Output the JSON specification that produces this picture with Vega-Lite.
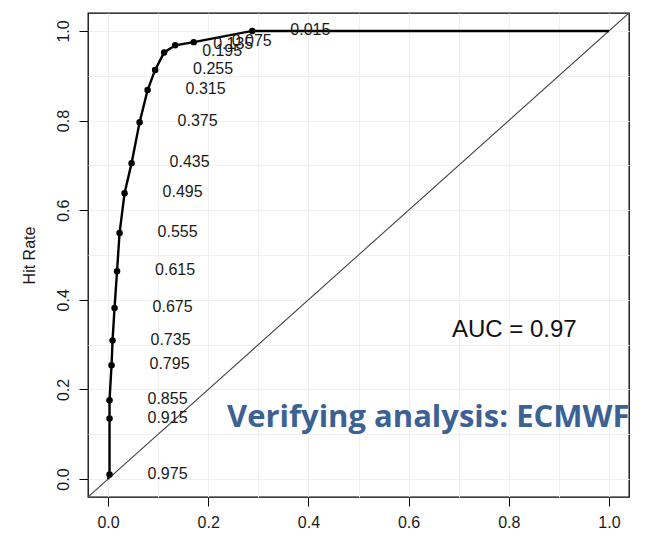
{
  "$schema": "https://vega.github.io/schema/vega-lite/v6.json",
  "width": 541,
  "height": 484,
  "autosize": "none",
  "padding": {"left": 88, "top": 13, "right": 16, "bottom": 44},
  "background": "white",
  "config": {
    "font": "Liberation Sans",
    "view": {"stroke": "#000000", "strokeWidth": 1.3},
    "axis": {
      "domain": false,
      "grid": true,
      "gridColor": "#f0f0f0",
      "gridWidth": 1,
      "tickColor": "#000000",
      "tickSize": 9,
      "tickWidth": 1,
      "labelFont": "Liberation Sans",
      "labelFontSize": 16,
      "labelColor": "#1a1a1a",
      "titleFont": "Liberation Sans",
      "titleFontSize": 16,
      "titleFontWeight": "normal",
      "titleColor": "#1a1a1a"
    }
  },
  "datasets": {
    "roc": [
      {"far": 0.0, "hr": 0.0, "thr": null},
      {"far": 0.003, "hr": 0.010, "thr": "0.975"},
      {"far": 0.003, "hr": 0.135, "thr": "0.915"},
      {"far": 0.003, "hr": 0.176, "thr": "0.855"},
      {"far": 0.007, "hr": 0.254, "thr": "0.795"},
      {"far": 0.009, "hr": 0.309, "thr": "0.735"},
      {"far": 0.013, "hr": 0.382, "thr": "0.675"},
      {"far": 0.018, "hr": 0.464, "thr": "0.615"},
      {"far": 0.023, "hr": 0.549, "thr": "0.555"},
      {"far": 0.033, "hr": 0.638, "thr": "0.495"},
      {"far": 0.047, "hr": 0.705, "thr": "0.435"},
      {"far": 0.063, "hr": 0.796, "thr": "0.375"},
      {"far": 0.079, "hr": 0.868, "thr": "0.315"},
      {"far": 0.094, "hr": 0.913, "thr": "0.255"},
      {"far": 0.112, "hr": 0.952, "thr": "0.195"},
      {"far": 0.134, "hr": 0.968, "thr": "0.135"},
      {"far": 0.171, "hr": 0.975, "thr": "0.075"},
      {"far": 0.288, "hr": 1.0, "thr": "0.015"},
      {"far": 1.0, "hr": 1.0, "thr": null}
    ],
    "diag": [{"d": -0.04}, {"d": 1.04}],
    "notes": [
      {"x": 0.811, "y": 0.317, "label": "AUC = 0.97"}
    ],
    "banner": [
      {"x": 0.2375, "y": 0.117, "label": "Verifying analysis: ECMWF"}
    ]
  },
  "layer": [
    {
      "data": {"name": "diag"},
      "mark": {"type": "line", "color": "#444444", "strokeWidth": 1.1, "clip": true},
      "encoding": {
        "x": {
          "field": "d", "type": "quantitative",
          "scale": {"domain": [-0.04, 1.04], "nice": false, "zero": false},
          "axis": {
            "title": null,
            "values": [0, 0.1, 0.2, 0.3, 0.4, 0.5, 0.6, 0.7, 0.8, 0.9, 1.0],
            "labelExpr": "round(datum.value*10) % 2 == 0 ? format(datum.value, '.1f') : ''",
            "tickOpacity": {"condition": {"test": "round(datum.value*10) % 2 == 0", "value": 1}, "value": 0},
            "labelBaseline": "alphabetic",
            "labelPadding": 21,
            "labelFlush": false,
            "labelOverlap": false
          }
        },
        "y": {
          "field": "d", "type": "quantitative",
          "scale": {"domain": [-0.04, 1.04], "nice": false, "zero": false},
          "axis": {
            "title": "Hit Rate",
            "values": [0, 0.1, 0.2, 0.3, 0.4, 0.5, 0.6, 0.7, 0.8, 0.9, 1.0],
            "labelExpr": "round(datum.value*10) % 2 == 0 ? format(datum.value, '.1f') : ''",
            "tickOpacity": {"condition": {"test": "round(datum.value*10) % 2 == 0", "value": 1}, "value": 0},
            "labelAngle": -90,
            "labelAlign": "center",
            "labelBaseline": "alphabetic",
            "labelPadding": 11,
            "labelFlush": false,
            "labelOverlap": false,
            "titleAngle": -90,
            "titleX": -54,
            "titleY": 242,
            "titleAlign": "center",
            "titleBaseline": "alphabetic"
          }
        }
      }
    },
    {
      "data": {"name": "roc"},
      "mark": {"type": "line", "color": "#000000", "strokeWidth": 2.4},
      "encoding": {
        "x": {"field": "far", "type": "quantitative"},
        "y": {"field": "hr", "type": "quantitative"},
        "order": {"field": "hr", "type": "quantitative"}
      }
    },
    {
      "data": {"name": "roc"},
      "transform": [{"filter": "datum.thr != null"}],
      "mark": {"type": "point", "filled": true, "color": "#000000", "size": 42, "opacity": 1},
      "encoding": {
        "x": {"field": "far", "type": "quantitative"},
        "y": {"field": "hr", "type": "quantitative"}
      }
    },
    {
      "data": {"name": "roc"},
      "transform": [{"filter": "datum.thr != null"}],
      "mark": {"type": "text", "align": "center", "baseline": "middle", "dx": 58, "dy": -1, "fontSize": 16, "font": "Liberation Sans", "color": "#1a1a1a"},
      "encoding": {
        "x": {"field": "far", "type": "quantitative"},
        "y": {"field": "hr", "type": "quantitative"},
        "text": {"field": "thr", "type": "nominal"}
      }
    },
    {
      "data": {"name": "notes"},
      "mark": {"type": "text", "align": "center", "baseline": "alphabetic", "fontSize": 24, "font": "Liberation Sans", "color": "#111111"},
      "encoding": {
        "x": {"field": "x", "type": "quantitative"},
        "y": {"field": "y", "type": "quantitative"},
        "text": {"field": "label", "type": "nominal"}
      }
    },
    {
      "data": {"name": "banner"},
      "mark": {"type": "text", "align": "left", "baseline": "alphabetic", "fontSize": 31, "font": "Open Sans", "fontWeight": "bold", "color": "#3b6195"},
      "encoding": {
        "x": {"field": "x", "type": "quantitative"},
        "y": {"field": "y", "type": "quantitative"},
        "text": {"field": "label", "type": "nominal"}
      }
    }
  ]
}
